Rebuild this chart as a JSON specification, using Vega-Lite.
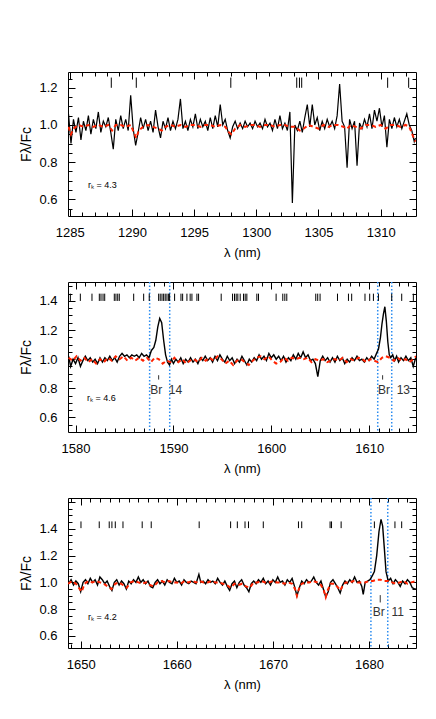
{
"$schema": "https://vega.github.io/schema/vega-lite/v6.json",
"background": "white",
"padding": {"left": 19, "top": 71, "right": 10, "bottom": 10},
"spacing": 66,
"bounds": "flush",
"config": {
  "view": {"stroke": "black", "strokeWidth": 1},
  "axis": {"labelFont": "Liberation Sans", "titleFont": "Liberation Sans", "labelFontSize": 13, "titleFontSize": 13, "labelColor": "black", "titleColor": "black", "titleFontWeight": "normal", "domain": false, "grid": false, "tickColor": "black", "tickWidth": 1, "labelFlush": false, "labelOverlap": false},
  "text": {"font": "Liberation Sans", "color": "black"}
},
"datasets": {
  "obs1": [
{"w":1284.9,"f":1.06},{"w":1285.1,"f":0.90},{"w":1285.3,"f":1.03},{"w":1285.5,"f":0.96},{"w":1285.7,"f":1.04},{"w":1285.9,"f":0.92},{"w":1286.1,"f":1.02},{"w":1286.3,"f":0.97},{"w":1286.5,"f":1.05},{"w":1286.7,"f":0.95},{"w":1286.9,"f":1.03},{"w":1287.1,"f":0.98},{"w":1287.3,"f":1.07},{"w":1287.5,"f":0.96},{"w":1287.7,"f":1.02},{"w":1287.9,"f":0.99},{"w":1288.1,"f":1.04},{"w":1288.3,"f":0.96},{"w":1288.5,"f":0.87},{"w":1288.7,"f":1.03},{"w":1288.9,"f":0.97},{"w":1289.1,"f":1.05},{"w":1289.3,"f":0.98},{"w":1289.5,"f":1.03},{"w":1289.7,"f":0.97},{"w":1289.9,"f":1.16},{"w":1290.1,"f":0.98},{"w":1290.3,"f":0.89},{"w":1290.5,"f":0.96},{"w":1290.7,"f":1.04},{"w":1290.9,"f":0.98},{"w":1291.1,"f":1.03},{"w":1291.3,"f":0.97},{"w":1291.5,"f":1.02},{"w":1291.7,"f":0.96},{"w":1291.9,"f":1.08},{"w":1292.1,"f":0.99},{"w":1292.3,"f":0.93},{"w":1292.5,"f":1.02},{"w":1292.7,"f":0.98},{"w":1292.9,"f":1.04},{"w":1293.1,"f":0.97},{"w":1293.3,"f":1.02},{"w":1293.5,"f":0.98},{"w":1293.7,"f":1.03},{"w":1293.9,"f":1.14},{"w":1294.1,"f":0.98},{"w":1294.3,"f":1.02},{"w":1294.5,"f":0.97},{"w":1294.7,"f":1.03},{"w":1294.9,"f":0.99},{"w":1295.1,"f":1.06},{"w":1295.3,"f":0.98},{"w":1295.5,"f":1.03},{"w":1295.7,"f":0.99},{"w":1295.9,"f":1.02},{"w":1296.1,"f":0.97},{"w":1296.3,"f":1.04},{"w":1296.5,"f":0.98},{"w":1296.7,"f":1.05},{"w":1296.9,"f":0.99},{"w":1297.1,"f":1.11},{"w":1297.3,"f":1.00},{"w":1297.5,"f":1.03},{"w":1297.7,"f":0.97},{"w":1297.9,"f":0.93},{"w":1298.1,"f":0.99},{"w":1298.3,"f":1.02},{"w":1298.5,"f":0.98},{"w":1298.7,"f":1.01},{"w":1298.9,"f":0.98},{"w":1299.1,"f":1.02},{"w":1299.3,"f":0.99},{"w":1299.5,"f":1.01},{"w":1299.7,"f":0.98},{"w":1299.9,"f":1.02},{"w":1300.1,"f":0.99},{"w":1300.3,"f":1.01},{"w":1300.5,"f":0.98},{"w":1300.7,"f":1.03},{"w":1300.9,"f":0.99},{"w":1301.1,"f":1.01},{"w":1301.3,"f":0.97},{"w":1301.5,"f":1.03},{"w":1301.7,"f":0.98},{"w":1301.9,"f":1.05},{"w":1302.1,"f":0.98},{"w":1302.3,"f":1.01},{"w":1302.5,"f":0.97},{"w":1302.7,"f":1.07},{"w":1302.9,"f":0.58},{"w":1303.1,"f":1.00},{"w":1303.3,"f":0.97},{"w":1303.5,"f":1.02},{"w":1303.7,"f":0.96},{"w":1303.9,"f":1.04},{"w":1304.1,"f":1.11},{"w":1304.3,"f":0.99},{"w":1304.5,"f":1.11},{"w":1304.7,"f":1.00},{"w":1304.9,"f":1.04},{"w":1305.1,"f":0.97},{"w":1305.3,"f":1.02},{"w":1305.5,"f":0.98},{"w":1305.7,"f":1.03},{"w":1305.9,"f":0.99},{"w":1306.1,"f":1.02},{"w":1306.3,"f":0.98},{"w":1306.5,"f":1.05},{"w":1306.7,"f":1.22},{"w":1306.9,"f":1.02},{"w":1307.1,"f":0.99},{"w":1307.3,"f":0.77},{"w":1307.5,"f":1.03},{"w":1307.7,"f":0.98},{"w":1307.9,"f":1.02},{"w":1308.1,"f":0.78},{"w":1308.3,"f":1.01},{"w":1308.5,"f":0.98},{"w":1308.7,"f":1.03},{"w":1308.9,"f":0.99},{"w":1309.1,"f":1.06},{"w":1309.3,"f":0.98},{"w":1309.5,"f":1.08},{"w":1309.7,"f":1.02},{"w":1309.9,"f":1.09},{"w":1310.1,"f":0.99},{"w":1310.3,"f":1.05},{"w":1310.5,"f":0.88},{"w":1310.7,"f":1.03},{"w":1310.9,"f":0.98},{"w":1311.1,"f":1.04},{"w":1311.3,"f":0.99},{"w":1311.5,"f":1.03},{"w":1311.7,"f":0.98},{"w":1311.9,"f":1.02},{"w":1312.1,"f":1.06},{"w":1312.3,"f":1.00},{"w":1312.5,"f":0.97},{"w":1312.7,"f":0.91},{"w":1312.8,"f":0.93}
  ],
  "mod1": [
{"w":1284.9,"f":0.99},{"w":1285.1,"f":0.95},{"w":1285.3,"f":0.98},{"w":1285.7,"f":1.00},{"w":1286.1,"f":0.99},{"w":1286.5,"f":1.00},{"w":1286.9,"f":0.99},{"w":1287.3,"f":1.00},{"w":1287.7,"f":0.99},{"w":1288.1,"f":1.00},{"w":1288.4,"f":0.97},{"w":1288.7,"f":1.00},{"w":1289.1,"f":1.00},{"w":1289.5,"f":0.99},{"w":1289.9,"f":1.00},{"w":1290.15,"f":0.96},{"w":1290.35,"f":0.93},{"w":1290.55,"f":0.97},{"w":1290.9,"f":0.99},{"w":1291.3,"f":1.00},{"w":1291.7,"f":0.99},{"w":1292.1,"f":0.98},{"w":1292.4,"f":0.97},{"w":1292.7,"f":0.99},{"w":1293.1,"f":1.00},{"w":1293.5,"f":0.99},{"w":1293.9,"f":1.00},{"w":1294.3,"f":0.99},{"w":1294.7,"f":1.00},{"w":1295.1,"f":1.00},{"w":1295.5,"f":0.99},{"w":1295.9,"f":1.00},{"w":1296.3,"f":1.00},{"w":1296.7,"f":0.99},{"w":1297.1,"f":1.00},{"w":1297.5,"f":0.99},{"w":1297.8,"f":0.96},{"w":1298.0,"f":0.95},{"w":1298.3,"f":0.98},{"w":1298.7,"f":1.00},{"w":1299.1,"f":0.99},{"w":1299.5,"f":1.00},{"w":1299.9,"f":1.00},{"w":1300.3,"f":0.99},{"w":1300.7,"f":1.00},{"w":1301.1,"f":1.00},{"w":1301.5,"f":0.99},{"w":1301.9,"f":1.00},{"w":1302.3,"f":1.00},{"w":1302.7,"f":0.99},{"w":1303.1,"f":0.99},{"w":1303.5,"f":0.97},{"w":1303.8,"f":0.98},{"w":1304.2,"f":1.00},{"w":1304.6,"f":0.99},{"w":1305.0,"f":0.98},{"w":1305.4,"f":1.00},{"w":1305.8,"f":0.99},{"w":1306.2,"f":1.00},{"w":1306.6,"f":1.00},{"w":1307.0,"f":0.99},{"w":1307.3,"f":0.98},{"w":1307.6,"f":1.00},{"w":1308.0,"f":0.99},{"w":1308.4,"f":0.98},{"w":1308.8,"f":1.00},{"w":1309.2,"f":1.00},{"w":1309.6,"f":0.99},{"w":1310.0,"f":1.00},{"w":1310.4,"f":0.98},{"w":1310.8,"f":1.00},{"w":1311.2,"f":1.00},{"w":1311.6,"f":0.99},{"w":1312.0,"f":1.00},{"w":1312.3,"f":0.99},{"w":1312.6,"f":0.94},{"w":1312.8,"f":0.91}
  ],
  "lines1": [{"w":1288.34},{"w":1290.35},{"w":1297.95},{"w":1303.25},{"w":1303.47},{"w":1303.65},{"w":1310.56},{"w":1312.25}],
  "obs2": [
{"w":1579.3,"f":1.02},{"w":1579.5,"f":0.95},{"w":1579.75,"f":1.00},{"w":1580.0,"f":0.97},{"w":1580.25,"f":1.01},{"w":1580.5,"f":0.95},{"w":1580.75,"f":0.99},{"w":1581.0,"f":1.02},{"w":1581.25,"f":0.99},{"w":1581.5,"f":1.01},{"w":1581.75,"f":0.98},{"w":1582.0,"f":1.00},{"w":1582.25,"f":0.97},{"w":1582.5,"f":1.01},{"w":1582.75,"f":0.98},{"w":1583.0,"f":1.01},{"w":1583.25,"f":0.99},{"w":1583.5,"f":1.02},{"w":1583.75,"f":0.99},{"w":1584.0,"f":1.01},{"w":1584.25,"f":0.98},{"w":1584.5,"f":1.02},{"w":1584.75,"f":1.04},{"w":1585.0,"f":1.02},{"w":1585.25,"f":1.03},{"w":1585.5,"f":1.01},{"w":1585.75,"f":1.03},{"w":1586.0,"f":1.02},{"w":1586.25,"f":1.03},{"w":1586.5,"f":1.01},{"w":1586.75,"f":1.04},{"w":1587.0,"f":1.02},{"w":1587.25,"f":1.03},{"w":1587.5,"f":1.01},{"w":1587.75,"f":1.06},{"w":1588.0,"f":1.08},{"w":1588.2,"f":1.13},{"w":1588.4,"f":1.22},{"w":1588.6,"f":1.28},{"w":1588.8,"f":1.25},{"w":1589.0,"f":1.13},{"w":1589.2,"f":1.03},{"w":1589.4,"f":0.98},{"w":1589.6,"f":0.96},{"w":1589.8,"f":1.00},{"w":1590.0,"f":0.97},{"w":1590.25,"f":1.00},{"w":1590.5,"f":0.98},{"w":1590.75,"f":1.01},{"w":1591.0,"f":0.97},{"w":1591.25,"f":1.00},{"w":1591.5,"f":0.98},{"w":1591.75,"f":1.01},{"w":1592.0,"f":0.98},{"w":1592.25,"f":1.00},{"w":1592.5,"f":0.97},{"w":1592.75,"f":1.01},{"w":1593.0,"f":0.99},{"w":1593.25,"f":1.02},{"w":1593.5,"f":0.99},{"w":1593.75,"f":1.01},{"w":1594.0,"f":0.98},{"w":1594.25,"f":1.02},{"w":1594.5,"f":0.99},{"w":1594.75,"f":1.03},{"w":1595.0,"f":1.00},{"w":1595.25,"f":0.98},{"w":1595.5,"f":1.02},{"w":1595.75,"f":0.99},{"w":1596.0,"f":1.01},{"w":1596.25,"f":0.97},{"w":1596.5,"f":1.00},{"w":1596.75,"f":0.98},{"w":1597.0,"f":1.02},{"w":1597.25,"f":0.99},{"w":1597.5,"f":0.96},{"w":1597.75,"f":1.00},{"w":1598.0,"f":0.98},{"w":1598.25,"f":1.01},{"w":1598.5,"f":0.99},{"w":1598.75,"f":1.03},{"w":1599.0,"f":1.00},{"w":1599.25,"f":1.02},{"w":1599.5,"f":0.99},{"w":1599.75,"f":1.04},{"w":1600.0,"f":1.01},{"w":1600.25,"f":1.03},{"w":1600.5,"f":1.00},{"w":1600.75,"f":1.02},{"w":1601.0,"f":0.99},{"w":1601.25,"f":1.02},{"w":1601.5,"f":0.98},{"w":1601.75,"f":1.01},{"w":1602.0,"f":0.99},{"w":1602.25,"f":1.03},{"w":1602.5,"f":1.00},{"w":1602.75,"f":1.04},{"w":1603.0,"f":1.01},{"w":1603.25,"f":1.05},{"w":1603.5,"f":1.01},{"w":1603.75,"f":1.03},{"w":1604.0,"f":0.99},{"w":1604.25,"f":1.00},{"w":1604.5,"f":0.97},{"w":1604.75,"f":0.88},{"w":1605.0,"f":0.99},{"w":1605.25,"f":1.02},{"w":1605.5,"f":0.99},{"w":1605.75,"f":1.01},{"w":1606.0,"f":0.98},{"w":1606.25,"f":1.01},{"w":1606.5,"f":0.98},{"w":1606.75,"f":1.02},{"w":1607.0,"f":0.99},{"w":1607.25,"f":1.01},{"w":1607.5,"f":0.97},{"w":1607.75,"f":1.00},{"w":1608.0,"f":0.98},{"w":1608.25,"f":1.01},{"w":1608.5,"f":0.99},{"w":1608.75,"f":1.02},{"w":1609.0,"f":0.99},{"w":1609.25,"f":1.00},{"w":1609.5,"f":0.98},{"w":1609.75,"f":1.01},{"w":1610.0,"f":0.99},{"w":1610.25,"f":1.02},{"w":1610.5,"f":1.00},{"w":1610.75,"f":1.04},{"w":1610.95,"f":1.07},{"w":1611.15,"f":1.15},{"w":1611.3,"f":1.24},{"w":1611.45,"f":1.31},{"w":1611.6,"f":1.36},{"w":1611.75,"f":1.26},{"w":1611.9,"f":1.12},{"w":1612.05,"f":1.03},{"w":1612.2,"f":1.01},{"w":1612.4,"f":1.03},{"w":1612.6,"f":0.99},{"w":1612.8,"f":1.02},{"w":1613.0,"f":0.98},{"w":1613.25,"f":1.01},{"w":1613.5,"f":0.99},{"w":1613.75,"f":1.02},{"w":1614.0,"f":0.99},{"w":1614.25,"f":1.01},{"w":1614.5,"f":0.95},{"w":1614.75,"f":1.01}
  ],
  "mod2": [
{"w":1579.3,"f":1.01},{"w":1579.7,"f":0.99},{"w":1580.1,"f":1.02},{"w":1580.5,"f":0.99},{"w":1580.9,"f":1.01},{"w":1581.3,"f":0.98},{"w":1581.7,"f":1.00},{"w":1582.1,"f":0.97},{"w":1582.5,"f":1.00},{"w":1582.9,"f":0.98},{"w":1583.3,"f":1.01},{"w":1583.7,"f":0.99},{"w":1584.1,"f":1.02},{"w":1584.5,"f":1.00},{"w":1584.9,"f":1.02},{"w":1585.3,"f":0.99},{"w":1585.7,"f":1.01},{"w":1586.1,"f":0.99},{"w":1586.5,"f":1.01},{"w":1586.9,"f":0.99},{"w":1587.3,"f":1.01},{"w":1587.7,"f":0.98},{"w":1588.1,"f":1.01},{"w":1588.5,"f":1.00},{"w":1588.9,"f":0.97},{"w":1589.3,"f":0.99},{"w":1589.7,"f":0.98},{"w":1590.1,"f":1.01},{"w":1590.5,"f":0.98},{"w":1590.9,"f":1.00},{"w":1591.3,"f":0.97},{"w":1591.7,"f":0.99},{"w":1592.1,"f":1.00},{"w":1592.5,"f":0.98},{"w":1592.9,"f":1.01},{"w":1593.3,"f":0.99},{"w":1593.7,"f":1.01},{"w":1594.1,"f":0.99},{"w":1594.5,"f":1.02},{"w":1594.9,"f":1.00},{"w":1595.3,"f":0.97},{"w":1595.7,"f":0.99},{"w":1596.1,"f":0.96},{"w":1596.5,"f":0.99},{"w":1596.9,"f":1.00},{"w":1597.3,"f":0.98},{"w":1597.7,"f":0.96},{"w":1598.1,"f":0.99},{"w":1598.5,"f":1.01},{"w":1598.9,"f":1.02},{"w":1599.3,"f":1.00},{"w":1599.7,"f":1.02},{"w":1600.1,"f":0.99},{"w":1600.5,"f":0.97},{"w":1600.9,"f":0.98},{"w":1601.3,"f":1.01},{"w":1601.7,"f":0.99},{"w":1602.1,"f":1.01},{"w":1602.5,"f":1.00},{"w":1602.9,"f":1.01},{"w":1603.3,"f":1.00},{"w":1603.7,"f":1.01},{"w":1604.1,"f":0.98},{"w":1604.5,"f":1.00},{"w":1604.9,"f":0.99},{"w":1605.3,"f":1.00},{"w":1605.7,"f":0.98},{"w":1606.1,"f":0.99},{"w":1606.5,"f":1.00},{"w":1606.9,"f":0.99},{"w":1607.3,"f":1.01},{"w":1607.7,"f":0.98},{"w":1608.1,"f":1.00},{"w":1608.5,"f":0.99},{"w":1608.9,"f":1.01},{"w":1609.3,"f":1.00},{"w":1609.7,"f":0.98},{"w":1610.1,"f":1.00},{"w":1610.5,"f":0.99},{"w":1610.9,"f":0.98},{"w":1611.3,"f":1.01},{"w":1611.7,"f":1.02},{"w":1612.1,"f":1.01},{"w":1612.5,"f":0.99},{"w":1612.9,"f":1.01},{"w":1613.3,"f":0.99},{"w":1613.7,"f":1.00},{"w":1614.1,"f":0.98},{"w":1614.5,"f":1.00},{"w":1614.8,"f":1.02}
  ],
  "lines2": [{"w":1579.47},{"w":1580.49},{"w":1581.68},{"w":1582.43},{"w":1582.6},{"w":1582.81},{"w":1582.98},{"w":1583.96},{"w":1584.13},{"w":1584.31},{"w":1584.47},{"w":1585.94},{"w":1586.96},{"w":1587.53},{"w":1588.49},{"w":1588.65},{"w":1588.83},{"w":1589.0},{"w":1589.16},{"w":1589.34},{"w":1589.51},{"w":1589.61},{"w":1590.12},{"w":1590.77},{"w":1590.94},{"w":1591.38},{"w":1591.71},{"w":1591.89},{"w":1592.4},{"w":1592.57},{"w":1594.88},{"w":1596.04},{"w":1596.24},{"w":1596.41},{"w":1596.58},{"w":1596.82},{"w":1597.16},{"w":1597.33},{"w":1597.5},{"w":1598.52},{"w":1598.69},{"w":1600.49},{"w":1601.17},{"w":1601.38},{"w":1601.58},{"w":1604.54},{"w":1604.74},{"w":1604.98},{"w":1606.76},{"w":1607.88},{"w":1608.21},{"w":1609.57},{"w":1610.05},{"w":1610.43},{"w":1610.94},{"w":1612.3},{"w":1613.32},{"w":1614.51}],
  "blue2": [{"w":1587.57},{"w":1589.62},{"w":1610.87},{"w":1612.3}],
  "br2": [{"w":1588.49,"t":"Br\u00a0 14","tw":1587.62},{"w":1611.37,"t":"Br\u00a0 13","tw":1610.9}],
  "obs3": [
{"w":1648.75,"f":0.99},{"w":1649.0,"f":1.02},{"w":1649.25,"f":0.98},{"w":1649.5,"f":1.01},{"w":1649.75,"f":0.99},{"w":1650.0,"f":0.93},{"w":1650.25,"f":1.00},{"w":1650.5,"f":1.02},{"w":1650.75,"f":0.99},{"w":1651.0,"f":1.03},{"w":1651.25,"f":1.00},{"w":1651.5,"f":1.02},{"w":1651.75,"f":0.98},{"w":1652.0,"f":1.04},{"w":1652.25,"f":1.02},{"w":1652.5,"f":0.99},{"w":1652.75,"f":1.01},{"w":1653.0,"f":0.97},{"w":1653.25,"f":0.94},{"w":1653.5,"f":1.00},{"w":1653.75,"f":1.02},{"w":1654.0,"f":0.98},{"w":1654.25,"f":1.01},{"w":1654.5,"f":0.99},{"w":1654.75,"f":0.95},{"w":1655.0,"f":1.01},{"w":1655.25,"f":0.99},{"w":1655.5,"f":1.02},{"w":1655.75,"f":1.00},{"w":1656.0,"f":1.04},{"w":1656.25,"f":1.00},{"w":1656.5,"f":1.02},{"w":1656.75,"f":0.99},{"w":1657.0,"f":1.01},{"w":1657.25,"f":0.97},{"w":1657.5,"f":0.96},{"w":1657.75,"f":1.00},{"w":1658.0,"f":1.02},{"w":1658.25,"f":0.99},{"w":1658.5,"f":1.01},{"w":1658.75,"f":0.98},{"w":1659.0,"f":1.02},{"w":1659.25,"f":1.00},{"w":1659.5,"f":0.99},{"w":1659.75,"f":1.03},{"w":1660.0,"f":1.00},{"w":1660.25,"f":1.01},{"w":1660.5,"f":0.98},{"w":1660.75,"f":1.02},{"w":1661.0,"f":1.00},{"w":1661.25,"f":0.99},{"w":1661.5,"f":1.01},{"w":1661.75,"f":1.00},{"w":1662.0,"f":0.99},{"w":1662.3,"f":1.06},{"w":1662.5,"f":1.00},{"w":1662.75,"f":1.01},{"w":1663.0,"f":0.99},{"w":1663.25,"f":1.02},{"w":1663.5,"f":1.00},{"w":1663.75,"f":1.01},{"w":1664.0,"f":0.99},{"w":1664.25,"f":1.03},{"w":1664.5,"f":1.00},{"w":1664.75,"f":0.98},{"w":1665.0,"f":1.01},{"w":1665.25,"f":0.97},{"w":1665.5,"f":0.94},{"w":1665.75,"f":0.99},{"w":1666.0,"f":1.01},{"w":1666.25,"f":0.96},{"w":1666.5,"f":1.00},{"w":1666.75,"f":1.02},{"w":1667.0,"f":0.98},{"w":1667.25,"f":0.96},{"w":1667.5,"f":0.93},{"w":1667.75,"f":0.99},{"w":1668.0,"f":1.01},{"w":1668.25,"f":0.99},{"w":1668.5,"f":1.02},{"w":1668.75,"f":1.00},{"w":1669.0,"f":1.03},{"w":1669.25,"f":0.99},{"w":1669.5,"f":1.01},{"w":1669.75,"f":0.98},{"w":1670.0,"f":1.02},{"w":1670.25,"f":1.00},{"w":1670.5,"f":1.04},{"w":1670.75,"f":1.00},{"w":1671.0,"f":1.01},{"w":1671.25,"f":0.98},{"w":1671.5,"f":1.02},{"w":1671.75,"f":1.00},{"w":1672.0,"f":1.03},{"w":1672.25,"f":0.97},{"w":1672.5,"f":0.90},{"w":1672.75,"f":0.96},{"w":1673.0,"f":1.01},{"w":1673.25,"f":0.99},{"w":1673.5,"f":1.02},{"w":1673.75,"f":1.00},{"w":1674.0,"f":1.01},{"w":1674.25,"f":1.04},{"w":1674.5,"f":1.00},{"w":1674.75,"f":0.98},{"w":1675.0,"f":1.01},{"w":1675.25,"f":0.95},{"w":1675.5,"f":0.89},{"w":1675.75,"f":0.93},{"w":1676.0,"f":1.00},{"w":1676.25,"f":1.02},{"w":1676.5,"f":0.99},{"w":1676.75,"f":0.96},{"w":1677.0,"f":0.92},{"w":1677.25,"f":0.98},{"w":1677.5,"f":1.01},{"w":1677.75,"f":0.99},{"w":1678.0,"f":1.02},{"w":1678.25,"f":1.00},{"w":1678.5,"f":1.04},{"w":1678.75,"f":1.00},{"w":1679.0,"f":1.01},{"w":1679.25,"f":0.97},{"w":1679.4,"f":0.91},{"w":1679.6,"f":1.00},{"w":1679.85,"f":1.01},{"w":1680.1,"f":1.02},{"w":1680.35,"f":1.05},{"w":1680.56,"f":1.08},{"w":1680.8,"f":1.20},{"w":1681.04,"f":1.38},{"w":1681.25,"f":1.47},{"w":1681.42,"f":1.42},{"w":1681.6,"f":1.25},{"w":1681.77,"f":1.08},{"w":1682.0,"f":1.01},{"w":1682.25,"f":1.03},{"w":1682.5,"f":0.99},{"w":1682.75,"f":1.02},{"w":1683.0,"f":1.00},{"w":1683.25,"f":0.97},{"w":1683.5,"f":1.01},{"w":1683.75,"f":0.99},{"w":1684.0,"f":1.02},{"w":1684.25,"f":1.00},{"w":1684.5,"f":0.96},{"w":1684.75,"f":0.95},{"w":1684.88,"f":0.95}
  ],
  "mod3": [
{"w":1648.7,"f":0.99},{"w":1649.1,"f":1.01},{"w":1649.5,"f":0.99},{"w":1649.9,"f":0.95},{"w":1650.1,"f":0.93},{"w":1650.4,"f":0.99},{"w":1650.8,"f":1.01},{"w":1651.2,"f":1.00},{"w":1651.6,"f":1.01},{"w":1652.0,"f":1.00},{"w":1652.4,"f":0.99},{"w":1652.8,"f":0.97},{"w":1653.2,"f":0.95},{"w":1653.6,"f":0.99},{"w":1654.0,"f":1.00},{"w":1654.4,"f":0.98},{"w":1654.8,"f":0.96},{"w":1655.2,"f":1.00},{"w":1655.6,"f":1.01},{"w":1656.0,"f":1.00},{"w":1656.4,"f":0.99},{"w":1656.8,"f":1.00},{"w":1657.2,"f":0.98},{"w":1657.6,"f":0.97},{"w":1658.0,"f":1.00},{"w":1658.4,"f":1.01},{"w":1658.8,"f":1.00},{"w":1659.2,"f":1.01},{"w":1659.6,"f":1.00},{"w":1660.0,"f":1.00},{"w":1660.4,"f":0.99},{"w":1660.8,"f":1.01},{"w":1661.2,"f":1.00},{"w":1661.6,"f":1.01},{"w":1662.0,"f":1.00},{"w":1662.4,"f":1.01},{"w":1662.8,"f":1.00},{"w":1663.2,"f":1.00},{"w":1663.6,"f":1.01},{"w":1664.0,"f":1.00},{"w":1664.4,"f":1.00},{"w":1664.8,"f":0.99},{"w":1665.2,"f":0.98},{"w":1665.6,"f":0.96},{"w":1666.0,"f":0.99},{"w":1666.4,"f":0.98},{"w":1666.8,"f":0.99},{"w":1667.2,"f":0.97},{"w":1667.6,"f":0.96},{"w":1668.0,"f":1.00},{"w":1668.4,"f":1.00},{"w":1668.8,"f":1.01},{"w":1669.2,"f":1.00},{"w":1669.6,"f":1.00},{"w":1670.0,"f":1.01},{"w":1670.4,"f":1.00},{"w":1670.8,"f":1.00},{"w":1671.2,"f":0.99},{"w":1671.6,"f":1.00},{"w":1672.0,"f":0.99},{"w":1672.3,"f":0.95},{"w":1672.5,"f":0.90},{"w":1672.7,"f":0.95},{"w":1673.0,"f":0.99},{"w":1673.4,"f":1.00},{"w":1673.8,"f":1.00},{"w":1674.2,"f":1.01},{"w":1674.6,"f":1.00},{"w":1675.0,"f":0.98},{"w":1675.3,"f":0.94},{"w":1675.5,"f":0.89},{"w":1675.7,"f":0.94},{"w":1676.0,"f":0.99},{"w":1676.4,"f":0.99},{"w":1676.8,"f":0.96},{"w":1677.0,"f":0.94},{"w":1677.3,"f":0.98},{"w":1677.6,"f":1.00},{"w":1678.0,"f":1.00},{"w":1678.4,"f":1.01},{"w":1678.8,"f":1.00},{"w":1679.2,"f":1.00},{"w":1679.6,"f":1.00},{"w":1680.0,"f":1.01},{"w":1680.4,"f":1.01},{"w":1680.8,"f":1.02},{"w":1681.2,"f":1.02},{"w":1681.6,"f":1.01},{"w":1682.0,"f":1.01},{"w":1682.4,"f":1.00},{"w":1682.8,"f":0.99},{"w":1683.2,"f":1.00},{"w":1683.6,"f":1.01},{"w":1684.0,"f":0.99},{"w":1684.4,"f":1.00},{"w":1684.88,"f":1.01}
  ],
  "lines3": [{"w":1650.03},{"w":1651.93},{"w":1652.97},{"w":1653.25},{"w":1653.6},{"w":1654.4},{"w":1656.4},{"w":1657.34},{"w":1662.33},{"w":1665.6},{"w":1666.3},{"w":1667.1},{"w":1667.46},{"w":1669.0},{"w":1672.66},{"w":1673.0},{"w":1675.95},{"w":1676.1},{"w":1677.1},{"w":1680.56},{"w":1682.7},{"w":1683.4}],
  "blue3": [{"w":1680.2},{"w":1681.95}],
  "br3": [{"w":1681.17,"t":"Br\u00a0 11","tw":1680.4}]
},
"vconcat": [
{
  "width": 348, "height": 144,
  "resolve": {"axis": {"x": "independent", "y": "independent"}},
  "layer": [
    {"data": {"name": "obs1"}, "mark": {"type": "line", "color": "black", "strokeWidth": 1.2, "clip": true},
     "encoding": {
       "x": {"field": "w", "type": "quantitative", "scale": {"domain": [1284.86, 1312.84], "nice": false, "zero": false},
             "axis": {"orient": "bottom", "title": "λ (nm)", "titlePadding": 4, "format": "d", "labelPadding": 17,
                      "values": [1285,1286,1287,1288,1289,1290,1291,1292,1293,1294,1295,1296,1297,1298,1299,1300,1301,1302,1303,1304,1305,1306,1307,1308,1309,1310,1311,1312],
                      "labelExpr": "datum.value % 5 === 0 ? datum.label : ''",
                      "tickSize": {"condition": {"test": "datum.value % 5 === 0", "value": -7}, "value": -4}}},
       "y": {"field": "f", "type": "quantitative", "scale": {"domain": [0.51, 1.285], "nice": false, "zero": false},
             "axis": {"orient": "left", "title": "Fλ/Fc", "titleFontSize": 14, "titlePadding": 5, "format": ".1f", "labelPadding": 18,
                      "values": [0.55,0.6,0.65,0.7,0.75,0.8,0.85,0.9,0.95,1.0,1.05,1.1,1.15,1.2,1.25],
                      "labelExpr": "round(datum.value*100) % 20 === 0 ? datum.label : ''",
                      "tickSize": {"condition": {"test": "round(datum.value*100) % 20 === 0", "value": -7}, "value": -4}}}
     }},
    {"data": {"name": "mod1"}, "mark": {"type": "line", "color": "#ff2200", "strokeWidth": 2, "strokeDash": [4, 3], "clip": true},
     "encoding": {
       "x": {"field": "w", "type": "quantitative", "scale": {"domain": [1284.86, 1312.84], "nice": false, "zero": false},
             "axis": {"orient": "top", "title": null, "labels": false,
                      "values": [1285,1286,1287,1288,1289,1290,1291,1292,1293,1294,1295,1296,1297,1298,1299,1300,1301,1302,1303,1304,1305,1306,1307,1308,1309,1310,1311,1312],
                      "tickSize": {"condition": {"test": "datum.value % 5 === 0", "value": -7}, "value": -4}}},
       "y": {"field": "f", "type": "quantitative", "scale": {"domain": [0.51, 1.285], "nice": false, "zero": false},
             "axis": {"orient": "right", "title": null, "labels": false,
                      "values": [0.55,0.6,0.65,0.7,0.75,0.8,0.85,0.9,0.95,1.0,1.05,1.1,1.15,1.2,1.25],
                      "tickSize": {"condition": {"test": "round(datum.value*100) % 20 === 0", "value": -7}, "value": -4}}}
     }},
    {"data": {"name": "lines1"}, "mark": {"type": "rule", "color": "black", "strokeWidth": 1},
     "encoding": {"x": {"field": "w", "type": "quantitative", "axis": null}, "y": {"datum": 1.2, "axis": null}, "y2": {"datum": 1.255}}},
    {"data": {"values": [{"w": 1286.47, "f": 0.676, "t": "rₖ = 4.3"}]}, "mark": {"type": "text", "align": "left", "baseline": "middle", "fontSize": 9},
     "encoding": {"x": {"field": "w", "type": "quantitative", "axis": null}, "y": {"field": "f", "type": "quantitative", "axis": null}, "text": {"field": "t"}}}
  ]
},
{
  "width": 348, "height": 150,
  "resolve": {"axis": {"x": "independent", "y": "independent"}},
  "layer": [
    {"data": {"name": "blue2"}, "mark": {"type": "rule", "color": "#2b8cf0", "strokeWidth": 1.5, "strokeDash": [1.5, 2]},
     "encoding": {"x": {"field": "w", "type": "quantitative", "scale": {"domain": [1579.23, 1614.78], "nice": false, "zero": false}, "axis": null}}},
    {"data": {"name": "obs2"}, "mark": {"type": "line", "color": "black", "strokeWidth": 1.4, "clip": true},
     "encoding": {
       "x": {"field": "w", "type": "quantitative", "scale": {"domain": [1579.23, 1614.78], "nice": false, "zero": false},
             "axis": {"orient": "bottom", "title": "λ (nm)", "titlePadding": 4, "format": "d", "labelPadding": 17,
                      "values": [1580,1581,1582,1583,1584,1585,1586,1587,1588,1589,1590,1591,1592,1593,1594,1595,1596,1597,1598,1599,1600,1601,1602,1603,1604,1605,1606,1607,1608,1609,1610,1611,1612,1613,1614],
                      "labelExpr": "datum.value % 10 === 0 ? datum.label : ''",
                      "tickSize": {"condition": {"test": "datum.value % 10 === 0", "value": -7}, "value": -4}}},
       "y": {"field": "f", "type": "quantitative", "scale": {"domain": [0.5, 1.53], "nice": false, "zero": false},
             "axis": {"orient": "left", "title": "Fλ/Fc", "titleFontSize": 14, "titlePadding": 5, "format": ".1f", "labelPadding": 18,
                      "values": [0.55,0.6,0.65,0.7,0.75,0.8,0.85,0.9,0.95,1.0,1.05,1.1,1.15,1.2,1.25,1.3,1.35,1.4,1.45,1.5],
                      "labelExpr": "round(datum.value*100) % 20 === 0 ? datum.label : ''",
                      "tickSize": {"condition": {"test": "round(datum.value*100) % 20 === 0", "value": -7}, "value": -4}}}
     }},
    {"data": {"name": "mod2"}, "mark": {"type": "line", "color": "#ff2200", "strokeWidth": 2, "strokeDash": [4, 3], "clip": true},
     "encoding": {
       "x": {"field": "w", "type": "quantitative", "scale": {"domain": [1579.23, 1614.78], "nice": false, "zero": false},
             "axis": {"orient": "top", "title": null, "labels": false,
                      "values": [1580,1581,1582,1583,1584,1585,1586,1587,1588,1589,1590,1591,1592,1593,1594,1595,1596,1597,1598,1599,1600,1601,1602,1603,1604,1605,1606,1607,1608,1609,1610,1611,1612,1613,1614],
                      "tickSize": {"condition": {"test": "datum.value % 10 === 0", "value": -7}, "value": -4}}},
       "y": {"field": "f", "type": "quantitative", "scale": {"domain": [0.5, 1.53], "nice": false, "zero": false},
             "axis": {"orient": "right", "title": null, "labels": false,
                      "values": [0.55,0.6,0.65,0.7,0.75,0.8,0.85,0.9,0.95,1.0,1.05,1.1,1.15,1.2,1.25,1.3,1.35,1.4,1.45,1.5],
                      "tickSize": {"condition": {"test": "round(datum.value*100) % 20 === 0", "value": -7}, "value": -4}}}
     }},
    {"data": {"name": "lines2"}, "mark": {"type": "rule", "color": "black", "strokeWidth": 1},
     "encoding": {"x": {"field": "w", "type": "quantitative", "axis": null}, "y": {"datum": 1.4, "axis": null}, "y2": {"datum": 1.45}}},
    {"data": {"name": "br2"}, "mark": {"type": "rule", "color": "#333333", "strokeWidth": 1},
     "encoding": {"x": {"field": "w", "type": "quantitative", "axis": null}, "y": {"datum": 0.86, "axis": null}, "y2": {"datum": 0.89}}},
    {"data": {"name": "br2"}, "mark": {"type": "text", "align": "left", "baseline": "middle", "fontSize": 12, "color": "#333333"},
     "encoding": {"x": {"field": "tw", "type": "quantitative", "axis": null}, "y": {"datum": 0.79, "axis": null}, "text": {"field": "t"}}},
    {"data": {"values": [{"w": 1581.17, "f": 0.734, "t": "rₖ = 4.6"}]}, "mark": {"type": "text", "align": "left", "baseline": "middle", "fontSize": 9},
     "encoding": {"x": {"field": "w", "type": "quantitative", "axis": null}, "y": {"field": "f", "type": "quantitative", "axis": null}, "text": {"field": "t"}}}
  ]
},
{
  "width": 348, "height": 150,
  "resolve": {"axis": {"x": "independent", "y": "independent"}},
  "layer": [
    {"data": {"name": "blue3"}, "mark": {"type": "rule", "color": "#2b8cf0", "strokeWidth": 1.5, "strokeDash": [1.5, 2]},
     "encoding": {"x": {"field": "w", "type": "quantitative", "scale": {"domain": [1648.68, 1684.89], "nice": false, "zero": false}, "axis": null}}},
    {"data": {"name": "obs3"}, "mark": {"type": "line", "color": "black", "strokeWidth": 1.4, "clip": true},
     "encoding": {
       "x": {"field": "w", "type": "quantitative", "scale": {"domain": [1648.68, 1684.89], "nice": false, "zero": false},
             "axis": {"orient": "bottom", "title": "λ (nm)", "titlePadding": 4, "format": "d", "labelPadding": 17,
                      "values": [1649,1650,1651,1652,1653,1654,1655,1656,1657,1658,1659,1660,1661,1662,1663,1664,1665,1666,1667,1668,1669,1670,1671,1672,1673,1674,1675,1676,1677,1678,1679,1680,1681,1682,1683,1684],
                      "labelExpr": "datum.value % 10 === 0 ? datum.label : ''",
                      "tickSize": {"condition": {"test": "datum.value % 10 === 0", "value": -7}, "value": -4}}},
       "y": {"field": "f", "type": "quantitative", "scale": {"domain": [0.51, 1.63], "nice": false, "zero": false},
             "axis": {"orient": "left", "title": "Fλ/Fc", "titleFontSize": 14, "titlePadding": 5, "format": ".1f", "labelPadding": 18,
                      "values": [0.55,0.6,0.65,0.7,0.75,0.8,0.85,0.9,0.95,1.0,1.05,1.1,1.15,1.2,1.25,1.3,1.35,1.4,1.45,1.5,1.55,1.6],
                      "labelExpr": "round(datum.value*100) % 20 === 0 && datum.value < 1.55 ? datum.label : ''",
                      "tickSize": {"condition": {"test": "round(datum.value*100) % 20 === 0", "value": -7}, "value": -4}}}
     }},
    {"data": {"name": "mod3"}, "mark": {"type": "line", "color": "#ff2200", "strokeWidth": 2, "strokeDash": [4, 3], "clip": true},
     "encoding": {
       "x": {"field": "w", "type": "quantitative", "scale": {"domain": [1648.68, 1684.89], "nice": false, "zero": false},
             "axis": {"orient": "top", "title": null, "labels": false,
                      "values": [1649,1650,1651,1652,1653,1654,1655,1656,1657,1658,1659,1660,1661,1662,1663,1664,1665,1666,1667,1668,1669,1670,1671,1672,1673,1674,1675,1676,1677,1678,1679,1680,1681,1682,1683,1684],
                      "tickSize": {"condition": {"test": "datum.value % 10 === 0", "value": -7}, "value": -4}}},
       "y": {"field": "f", "type": "quantitative", "scale": {"domain": [0.51, 1.63], "nice": false, "zero": false},
             "axis": {"orient": "right", "title": null, "labels": false,
                      "values": [0.55,0.6,0.65,0.7,0.75,0.8,0.85,0.9,0.95,1.0,1.05,1.1,1.15,1.2,1.25,1.3,1.35,1.4,1.45,1.5,1.55,1.6],
                      "tickSize": {"condition": {"test": "round(datum.value*100) % 20 === 0", "value": -7}, "value": -4}}}
     }},
    {"data": {"name": "lines3"}, "mark": {"type": "rule", "color": "black", "strokeWidth": 1},
     "encoding": {"x": {"field": "w", "type": "quantitative", "axis": null}, "y": {"datum": 1.405, "axis": null}, "y2": {"datum": 1.455}}},
    {"data": {"name": "br3"}, "mark": {"type": "rule", "color": "#333333", "strokeWidth": 1},
     "encoding": {"x": {"field": "w", "type": "quantitative", "axis": null}, "y": {"datum": 0.85, "axis": null}, "y2": {"datum": 0.905}}},
    {"data": {"name": "br3"}, "mark": {"type": "text", "align": "left", "baseline": "middle", "fontSize": 12, "color": "#333333"},
     "encoding": {"x": {"field": "tw", "type": "quantitative", "axis": null}, "y": {"datum": 0.777, "axis": null}, "text": {"field": "t"}}},
    {"data": {"values": [{"w": 1650.76, "f": 0.745, "t": "rₖ = 4.2"}]}, "mark": {"type": "text", "align": "left", "baseline": "middle", "fontSize": 9},
     "encoding": {"x": {"field": "w", "type": "quantitative", "axis": null}, "y": {"field": "f", "type": "quantitative", "axis": null}, "text": {"field": "t"}}}
  ]
}
]
}
